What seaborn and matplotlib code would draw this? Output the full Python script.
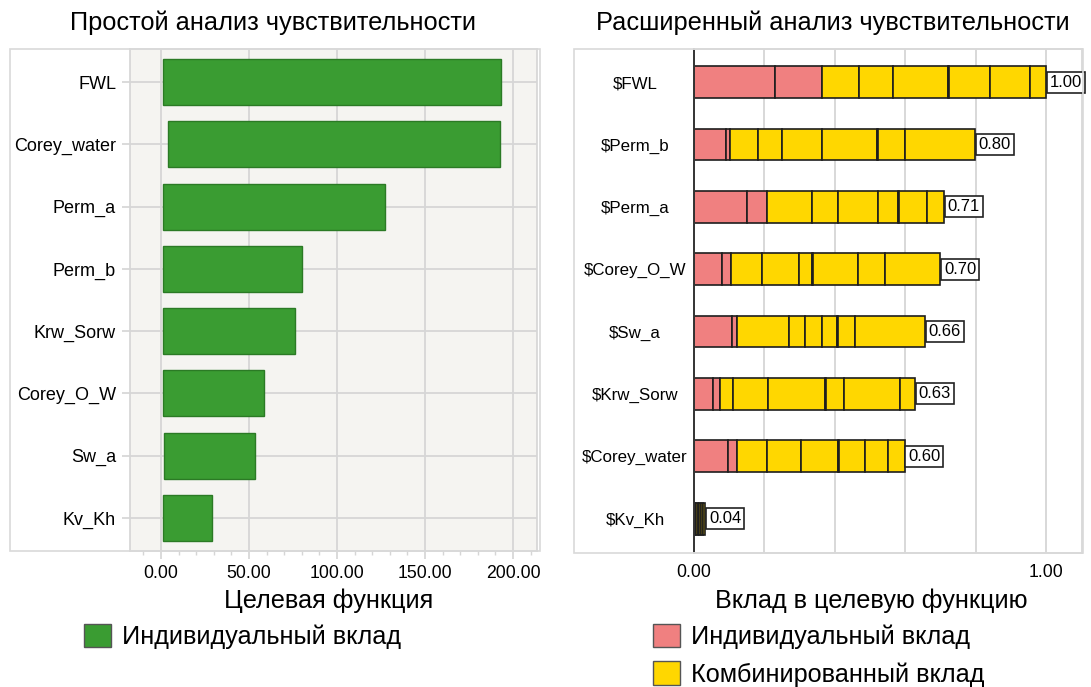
import matplotlib
matplotlib.use("Agg")
import matplotlib.pyplot as plt
import seaborn as sns
from matplotlib.patches import Patch, Rectangle
from matplotlib.ticker import MultipleLocator, FormatStrFormatter

# ----------------------------
# Data
# ----------------------------
simple_params = ["FWL", "Corey_water", "Perm_a", "Perm_b",
                 "Krw_Sorw", "Corey_O_W", "Sw_a", "Kv_Kh"]
simple_start = [1.2, 4.2, 1.2, 1.2, 1.2, 1.2, 1.8, 1.2]
simple_end = [193.0, 192.5, 127.5, 80.0, 76.0, 58.5, 53.5, 29.0]

ext_params = ["$FWL", "$Perm_b", "$Perm_a", "$Corey_O_W",
              "$Sw_a", "$Krw_Sorw", "$Corey_water", "$Kv_Kh"]
# individual contributions (pink segments)
ext_individual = [
    [0.230, 0.133],
    [0.091, 0.011],
    [0.150, 0.058],
    [0.079, 0.026],
    [0.109, 0.012],
    [0.055, 0.019],
    [0.096, 0.025],
    [0.001, 0.001],
]
# combined contributions (yellow segments)
ext_combined = [
    [0.106, 0.097, 0.155, 0.003, 0.117, 0.114, 0.045],
    [0.081, 0.068, 0.112, 0.156, 0.003, 0.077, 0.199],
    [0.126, 0.074, 0.116, 0.055, 0.003, 0.079, 0.049],
    [0.089, 0.103, 0.039, 0.003, 0.126, 0.078, 0.157],
    [0.149, 0.046, 0.047, 0.043, 0.003, 0.049, 0.198],
    [0.038, 0.099, 0.161, 0.003, 0.052, 0.158, 0.043],
    [0.085, 0.099, 0.103, 0.005, 0.072, 0.065, 0.048],
    [0.002, 0.003, 0.004, 0.004, 0.005, 0.006, 0.006],
]
ext_labels = ["1.00", "0.80", "0.71", "0.70", "0.66", "0.63", "0.60", "0.04"]

GREEN = "#3a9c32"
PINK = "#f08080"
YELLOW = "#ffd700"
GRID = "#d6d6d6"

sns.set_theme(style="whitegrid")
plt.rcParams['font.family'] = ['Liberation Sans', 'DejaVu Sans']
plt.rcParams['text.color'] = 'black'
plt.rcParams['xtick.labelcolor'] = 'black'
plt.rcParams['ytick.labelcolor'] = 'black'

W, H = 1091, 687
fig = plt.figure(figsize=(W / 100, H / 100), dpi=100)


def fx(px):
    return px / W


def fy(py):
    return 1 - py / H


# outer frames
fig.patches.append(Rectangle((fx(10), fy(551)), fx(530), (551 - 49) / H,
                             transform=fig.transFigure, fill=False,
                             ec="#d9d9d9", lw=1.2))
fig.patches.append(Rectangle((fx(574), fy(553)), fx(509), (553 - 49) / H,
                             transform=fig.transFigure, fill=False,
                             ec="#d9d9d9", lw=1.2))

# ----------------------------
# Left: simple sensitivity
# ----------------------------
ax1 = fig.add_axes([fx(130), fy(551), fx(407), (551 - 49) / H])
widths = [e - s for s, e in zip(simple_start, simple_end)]
sns.barplot(x=widths, y=simple_params, orient="h", color=GREEN,
            saturation=1, width=0.74, edgecolor="#2b7a25", linewidth=1,
            ax=ax1)
for patch, s in zip(ax1.patches, simple_start):
    patch.set_x(s)
ax1.set_facecolor("#f5f4f1")
ax1.set_xlim(-17.6, 213.6)
ax1.set_ylim(7.53, -0.53)
ax1.set_xticks([0, 50, 100, 150, 200])
ax1.xaxis.set_major_formatter(FormatStrFormatter("%.2f"))
ax1.xaxis.set_minor_locator(MultipleLocator(10))
ax1.grid(True, which="major", color=GRID, lw=1.3)
ax1.set_axisbelow(True)
ax1.tick_params(axis="x", which="major", length=6, color=GRID,
                labelsize=12.7, pad=4, bottom=True)
ax1.tick_params(axis="x", which="minor", length=3, color=GRID, bottom=True)
ax1.tick_params(axis="y", length=6, color=GRID, labelsize=13, pad=4, left=True)
for sp in ax1.spines.values():
    sp.set_color(GRID)
ax1.set_xlabel("")
ax1.set_ylabel("")

# ----------------------------
# Right: extended sensitivity
# ----------------------------
ax2 = fig.add_axes([fx(694), fy(553), fx(388), (553 - 49) / H])
for i, name in enumerate(ext_params):
    left = 0.0
    for w in ext_individual[i]:
        ax2.barh(i, w, left=left, height=0.51, color=PINK,
                 edgecolor="#1e1e1e", linewidth=1.2)
        left += w
    for w in ext_combined[i]:
        ax2.barh(i, w, left=left, height=0.51, color=YELLOW,
                 edgecolor="#1e1e1e", linewidth=1.2)
        left += w
    ax2.annotate(ext_labels[i], xy=(left, i), xytext=(2.6, 0),
                 textcoords="offset points", ha="left", va="center",
                 fontsize=12,
                 bbox=dict(boxstyle="square,pad=0.18", fc="white",
                           ec="#222222", lw=1.2))
ax2.set_facecolor("white")
ax2.set_xlim(0, 1.102)
ax2.set_ylim(7.55, -0.53)
ax2.set_yticks(range(len(ext_params)))
ax2.set_yticklabels(ext_params)
for t in ax2.get_yticklabels():
    t.set_ha("center")
ax2.set_xticks([0, 1])
ax2.xaxis.set_major_formatter(FormatStrFormatter("%.2f"))
ax2.xaxis.set_minor_locator(MultipleLocator(0.2))
ax2.grid(False)
ax2.grid(True, axis="x", which="both", color=GRID, lw=1.3)
ax2.set_axisbelow(True)
ax2.tick_params(axis="y", length=0, labelsize=12.2, pad=42.5)
ax2.tick_params(axis="x", which="both", length=0, labelsize=12.7, pad=8)
for sp in ["top", "right", "bottom"]:
    ax2.spines[sp].set_color(GRID)
ax2.spines["left"].set_color("#333333")
ax2.spines["left"].set_linewidth(1.4)

# ----------------------------
# Titles, axis labels, legends
# ----------------------------
fig.text(fx(273), fy(23), "Простой анализ чувствительности",
         ha="center", va="center", fontsize=18.3)
fig.text(fx(833), fy(23), "Расширенный анализ чувствительности",
         ha="center", va="center", fontsize=18.3)
fig.text(fx(329), fy(601), "Целевая функция", ha="center", va="center",
         fontsize=18.2)
fig.text(fx(871), fy(601), "Вклад в целевую функцию", ha="center",
         va="center", fontsize=18.2)

fig.legend(handles=[Patch(fc=GREEN, ec="#555555")],
           labels=["Индивидуальный вклад"], loc="upper left",
           bbox_to_anchor=(fx(84), fy(624)), frameon=False, fontsize=18.2,
           handlelength=1.05, handleheight=1.05, handletextpad=0.45,
           borderpad=0, borderaxespad=0)
fig.legend(handles=[Patch(fc=PINK, ec="#555555"), Patch(fc=YELLOW, ec="#555555")],
           labels=["Индивидуальный вклад", "Комбинированный вклад"],
           loc="upper left", bbox_to_anchor=(fx(653), fy(624)),
           frameon=False, fontsize=18.2, handlelength=1.05, handleheight=1.05,
           handletextpad=0.45, labelspacing=0.48, borderpad=0,
           borderaxespad=0)

fig.savefig("out.png", dpi=100)
